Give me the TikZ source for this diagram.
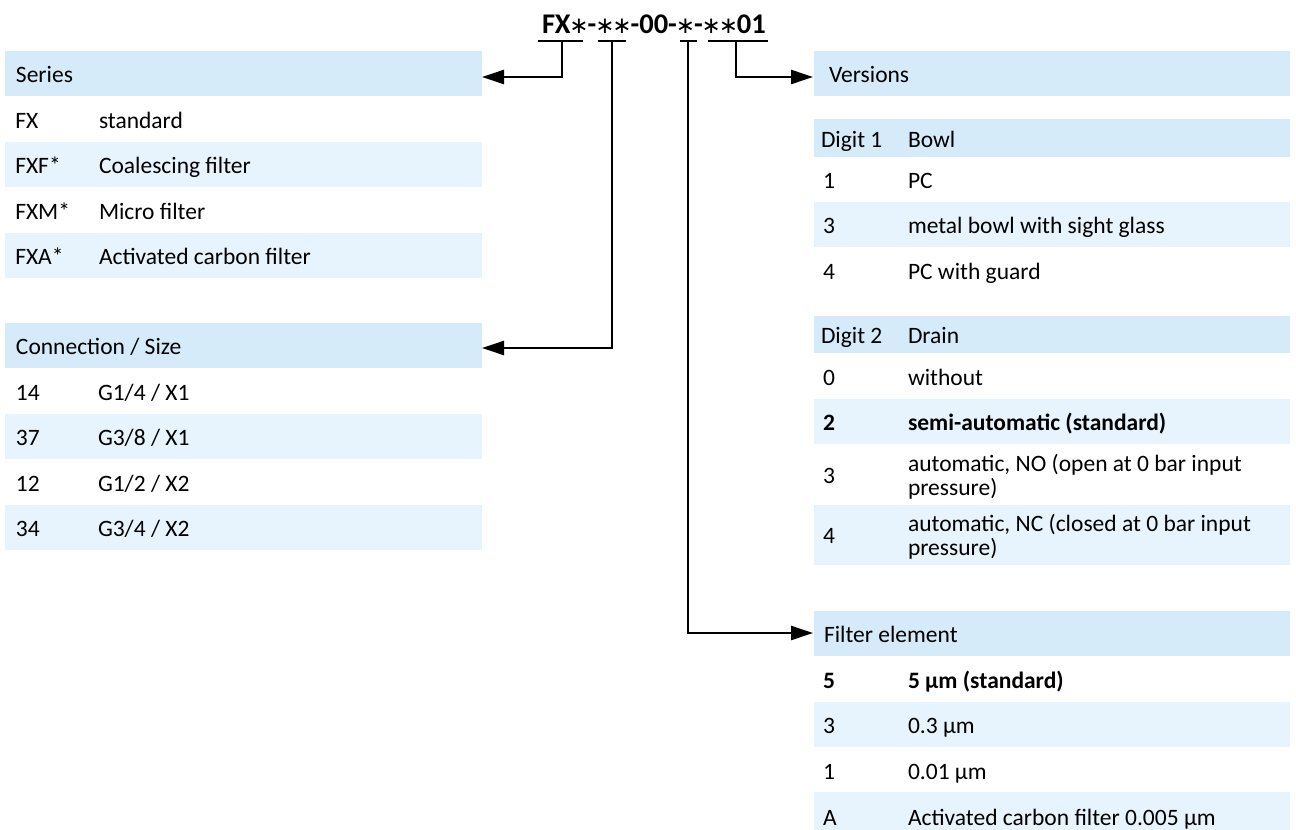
\documentclass[tikz,border=0pt]{standalone}
\usepackage{fontspec}
\setmainfont{Carlito}
\newfontfamily\djv{DejaVu Sans}
\usetikzlibrary{arrows.meta}
\definecolor{hdr}{RGB}{213,235,250}
\definecolor{alt}{RGB}{232,244,253}
\newcommand\aster{\makebox[0.6em]{{\djv\mdseries\fontsize{23}{23}\selectfont ∗}}}
\newcommand\twoline[2]{\begin{tabular}[t]{@{}l@{}}#1\\#2\end{tabular}}
\begin{document}
\begin{tikzpicture}[x=1pt,y=-1pt,
  every node/.style={inner sep=0pt, outer sep=0pt},
  txt/.style={anchor=base west, font=\fontsize{23.5}{23.5}\selectfont},
  btxt/.style={txt, font=\fontsize{23.5}{23.5}\selectfont\bfseries},
  hdrband/.style={fill=hdr, draw=none, anchor=north west, minimum width=477pt},
  altband/.style={fill=alt, draw=none, anchor=north west, minimum width=477pt},
  conn/.style={line width=2.5pt, -{Triangle[length=22pt,width=14pt]}},
  brk/.style={line width=2.5pt}]
\useasboundingbox (0,0) rectangle (1296,830);
% ---------- left panel: bands ----------
\node[hdrband, minimum height=45pt] (series) at (5,51) {};
\node[altband, minimum height=45pt] (lr2) at (5,142) {};
\node[altband, minimum height=45pt] (lr4) at (5,233) {};
\node[hdrband, minimum height=45pt] (conn) at (5,323) {};
\node[altband, minimum height=45pt] (cr2) at (5,414) {};
\node[altband, minimum height=45pt] (cr4) at (5,505) {};
% ---------- right panel: bands ----------
\node[hdrband, minimum width=476pt, minimum height=45pt] (versions) at (814,51) {};
\node[hdrband, minimum width=476pt, minimum height=38pt] (dig1) at (814,119) {};
\node[altband, minimum width=476pt, minimum height=45pt] (d1r2) at (814,202) {};
\node[hdrband, minimum width=476pt, minimum height=37pt] (dig2) at (814,316) {};
\node[altband, minimum width=476pt, minimum height=45pt] (d2r2) at (814,399) {};
\node[altband, minimum width=476pt, minimum height=60pt] (d2r4) at (814,505) {};
\node[hdrband, minimum width=476pt, minimum height=45pt] (filter) at (814,611) {};
\node[altband, minimum width=476pt, minimum height=45pt] (fr2) at (814,702) {};
\node[altband, minimum width=476pt, minimum height=38pt] (fr4) at (814,792) {};
% ---------- left texts ----------
\node[txt] (tseries) at (16,82.5) {Series};
\node[txt] (s1a) at (15.5,128) {FX};
\node[txt] (s1b) at (99,128) {standard};
\node[txt] (s2a) at (15.5,173.5) {FXF*};
\node[txt] (s2b) at (99,173.5) {Coalescing filter};
\node[txt] (s3a) at (15.5,219) {FXM*};
\node[txt] (s3b) at (99,219) {Micro filter};
\node[txt] (s4a) at (15.5,264.5) {FXA*};
\node[txt] (s4b) at (99,264.5) {Activated carbon filter};
\node[txt] (tconn) at (16,354.5) {Connection / Size};
\node[txt] (c1a) at (16,400) {14};
\node[txt] (c1b) at (98,400) {G1/4 / X1};
\node[txt] (c2a) at (16,445.5) {37};
\node[txt] (c2b) at (98,445.5) {G3/8 / X1};
\node[txt] (c3a) at (16,491) {12};
\node[txt] (c3b) at (98,491) {G1/2 / X2};
\node[txt] (c4a) at (16,536.5) {34};
\node[txt] (c4b) at (98,536.5) {G3/4 / X2};
% ---------- right texts ----------
\node[txt] (tversions) at (829,82.5) {Versions};
\node[txt] (tdig1) at (821,147) {Digit 1};
\node[txt] (tbowl) at (908,147) {Bowl};
\node[txt] (b1a) at (823,188.5) {1};
\node[txt] (b1b) at (908,188.5) {PC};
\node[txt] (b2a) at (823,233.5) {3};
\node[txt] (b2b) at (908,233.5) {metal bowl with sight glass};
\node[txt] (b3a) at (823,279) {4};
\node[txt] (b3b) at (908,279) {PC with guard};
\node[txt] (tdig2) at (821,343.5) {Digit 2};
\node[txt] (tdrain) at (908,343.5) {Drain};
\node[txt] (r1a) at (823,385) {0};
\node[txt] (r1b) at (908,385) {without};
\node[btxt] (r2a) at (823,430.5) {2};
\node[btxt] (r2b) at (908,430.5) {semi-automatic (standard)};
\node[txt] (r3a) at (823,483.3) {3};
\node[txt] (r3b) at (908,471.7) {\twoline{automatic, NO (open at 0 bar input}{pressure)}};
\node[txt] (r4a) at (823,543.3) {4};
\node[txt] (r4b) at (908,531.7) {\twoline{automatic, NC (closed at 0 bar input}{pressure)}};
\node[txt] (tfilter) at (824,642.5) {Filter element};
\node[btxt] (f1a) at (823,688) {5};
\node[btxt] (f1b) at (908,688) {5 µm (standard)};
\node[txt] (f2a) at (823,733.5) {3};
\node[txt] (f2b) at (908,733.5) {0.3 µm};
\node[txt] (f3a) at (823,779) {1};
\node[txt] (f3b) at (908,779) {0.01 µm};
\node[txt] (f4a) at (823,825) {A};
\node[txt] (f4b) at (908,825) {Activated carbon filter 0.005 µm};
% ---------- type code ----------
\node[anchor=base, font=\fontsize{28.5}{28.5}\selectfont\bfseries] (code) at (654,33)
  {FX\aster-\aster\aster-00-\aster-\aster\aster01};
% ---------- brackets ----------
\coordinate (u1l) at (538,41); \coordinate (u1r) at (583,41); \coordinate (u1m) at (562,41);
\coordinate (u2l) at (598,41); \coordinate (u2r) at (626,41); \coordinate (u2m) at (612,41);
\coordinate (u3l) at (680,41); \coordinate (u3r) at (697,41); \coordinate (u3m) at (688,41);
\coordinate (u4l) at (708,41); \coordinate (u4r) at (768,41); \coordinate (u4m) at (736,41);
\draw[brk] (u1l) -- (u1r);
\draw[brk] (u2l) -- (u2r);
\draw[brk] (u3l) -- (u3r);
\draw[brk] (u4l) -- (u4r);
\coordinate (e1) at (482,77);
\coordinate (e2) at (482,348);
\coordinate (e3) at (813,633);
\coordinate (e4) at (813,77);
\draw[conn] (u1m) |- (e1);
\draw[conn] (u2m) |- (e2);
\draw[conn] (u3m) |- (e3);
\draw[conn] (u4m) |- (e4);
\end{tikzpicture}
\end{document}
